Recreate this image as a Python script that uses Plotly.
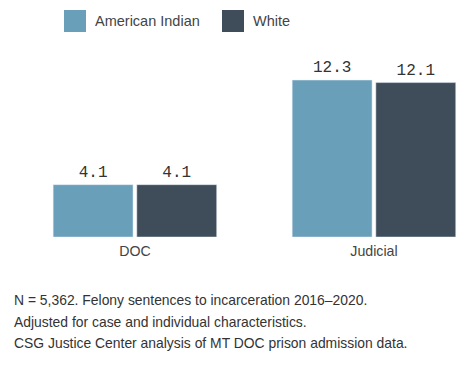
import plotly.graph_objects as go

categories = ["DOC", "Judicial"]
american_indian = [4.1, 12.3]
white = [4.1, 12.1]
series_names = ["American Indian", "White"]
colors = ["#6a9fba", "#3f4c5a"]
footnote_lines = [
    "N = 5,362. Felony sentences to incarceration 2016\u20132020.",
    "Adjusted for case and individual characteristics.",
    "CSG Justice Center analysis of MT DOC prison admission data.",
]

W, H = 474, 367
OFF = 8  # page body margin
M_T, M_B = 52, 138
PH = H - M_T - M_B
base_page_y = OFF + H - M_B


def px(page_x):
    return (page_x - OFF) / W


def py(page_y):
    return (base_page_y - page_y) / PH


fig = go.Figure()
for name, vals, col in zip(series_names, [american_indian, white], colors):
    fig.add_trace(go.Bar(
        x=categories, y=vals, name=name, marker_color=col,
        text=[f"{v:.1f}" for v in vals], textposition="outside",
        textfont=dict(family="Liberation Mono", size=16, color="#333333"),
        cliponaxis=False, showlegend=False,
    ))

fig.update_layout(
    width=W, height=H,
    margin=dict(l=0, r=0, t=M_T, b=M_B),
    paper_bgcolor="white", plot_bgcolor="white",
    barmode="group", bargap=0.30, bargroupgap=0.045,
    xaxis=dict(range=[-0.531, 1.452], showgrid=False, showline=False, zeroline=False,
               ticks="", ticklabelstandoff=4,
               tickfont=dict(family="Liberation Sans", size=14.2, color="#444444")),
    yaxis=dict(range=[0, 13.87], visible=False),
    font=dict(family="Liberation Sans"),
)

legend_x = [64, 222]
for i, (name, col) in enumerate(zip(series_names, colors)):
    fig.add_shape(type="rect", xref="paper", yref="paper",
                  x0=px(legend_x[i]), x1=px(legend_x[i] + 22),
                  y0=py(32), y1=py(10),
                  fillcolor=col, line=dict(width=0))
    fig.add_annotation(xref="paper", yref="paper", x=px(legend_x[i] + 29),
                       y=py(21), text=name, showarrow=False,
                       xanchor="left", yanchor="middle",
                       font=dict(family="Liberation Sans", size=14.5, color="#444444"))

for line, yc in zip(footnote_lines, [300, 321.5, 343]):
    fig.add_annotation(xref="paper", yref="paper", x=px(12), y=py(yc),
                       text=line, showarrow=False, align="left",
                       xanchor="left", yanchor="middle",
                       font=dict(family="Liberation Sans", size=13.9, color="#333333"))

fig.write_html("out.html")
